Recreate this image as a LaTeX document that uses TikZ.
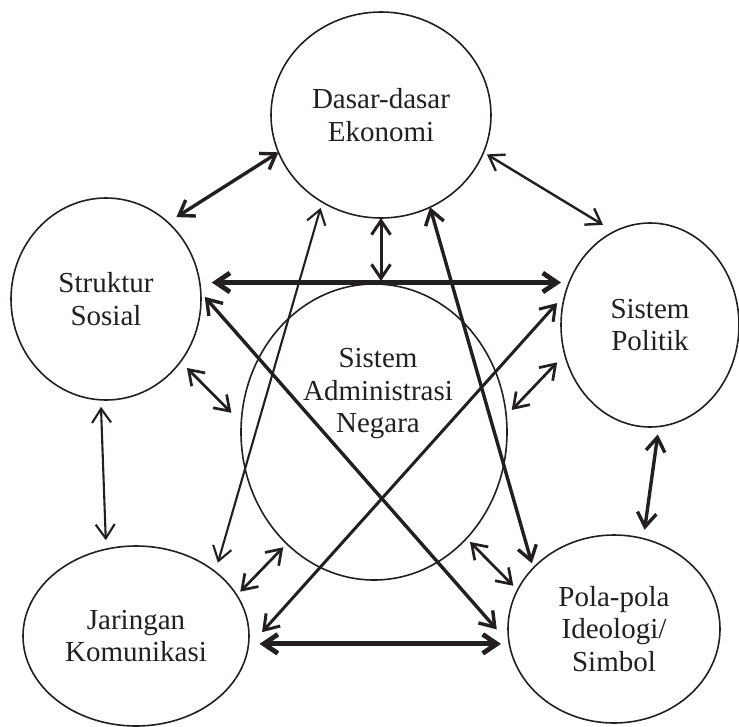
\documentclass[tikz,border=0pt]{standalone}
\usepackage{fontspec}
\setmainfont{Liberation Serif}
\usepackage{xcolor}
\usetikzlibrary{arrows.meta, shapes.geometric}
\definecolor{inkColor}{HTML}{231F20}

\begin{document}
\begin{tikzpicture}[x=1pt, y=-1pt, inkColor,
    blob/.style={draw, ellipse, inner sep=0pt, outer sep=0pt, line width=1.6pt,
        align=center, font=\fontsize{29}{32.5}\selectfont},
    link/.style={>={Straight Barb[length=14pt,width=19pt]}, <->},
    thinlink/.style={link, line width=2.1pt},
    midlink/.style={link, line width=2.7pt},
    thicklink/.style={link, line width=3.4pt},
    heavylink/.style={link, line width=4.8pt}]
    \useasboundingbox (0,0) rectangle (739,726);
    % the six fields
    \node[blob, minimum width=220pt, minimum height=206pt] (eko) at (381,115) {Dasar-dasar\\Ekonomi};
    \node[blob, minimum width=190pt, minimum height=202pt] (sos) at (106,299) {Struktur\\Sosial};
    \node[blob, minimum width=178pt, minimum height=204pt] (pol) at (650,325) {Sistem\\Politik};
    \node[blob, minimum width=212pt, minimum height=188pt] (pola) at (614,629) {Pola-pola\\Ideologi/\\Simbol};
    \node[blob, minimum width=226pt, minimum height=180pt] (jar) at (136,636) {Jaringan\\Komunikasi};
    \node[blob, minimum width=266pt, minimum height=296pt] (san) at (374,432) {};
    \node[font=\fontsize{29}{32.5}\selectfont, align=center] (santext) at (378,394) {Sistem\\Administrasi\\Negara};
    % links
    \draw[thicklink, shorten >=10pt] (eko.200) -- (sos.51);
    \draw[thinlink, line width=2.4pt, shorten <=4pt, shorten >=13pt] (eko.340) -- (pol.111);
    \draw[thicklink, line width=3pt, shorten >=3pt] (eko.south) -- (eko.south |- san.north);
    \draw[heavylink, shorten <=12pt] (sos.10) -- (sos.10 -| pol.west);
    \draw[thinlink, shorten <=6pt, shorten >=9.5pt] (eko.236) -- (jar.39);
    \draw[thicklink, shorten >=5pt] (eko.298) -- (pola.143);
    \draw[thicklink, shorten <=6pt, shorten >=19pt] (sos.4) -- (pola.188);
    \draw[thicklink, line width=3pt, shorten <=12pt, shorten >=21pt] (pol.160) -- (jar.354);
    \draw[midlink, shorten <=9pt, shorten >=14pt] (sos.320) -- (san.176);
    \draw[thinlink, shorten <=7pt, shorten >=9pt] (sos.267) -- (jar.109);
    \draw[midlink, shorten <=8pt, shorten >=11pt] (san.7) -- (pol.199);
    \draw[thicklink, shorten <=8pt, shorten >=9pt] (pol.275) -- (pola.72);
    \draw[midlink, shorten <=5pt, shorten >=5pt] (san.232) -- (jar.22);
    \draw[midlink, shorten <=5pt, shorten >=6pt] (san.311) -- (pola.158);
    \draw[heavylink, shorten <=11pt, shorten >=7pt] (jar.356) -- (jar.356 -| pola.west);
\end{tikzpicture}
\end{document}
